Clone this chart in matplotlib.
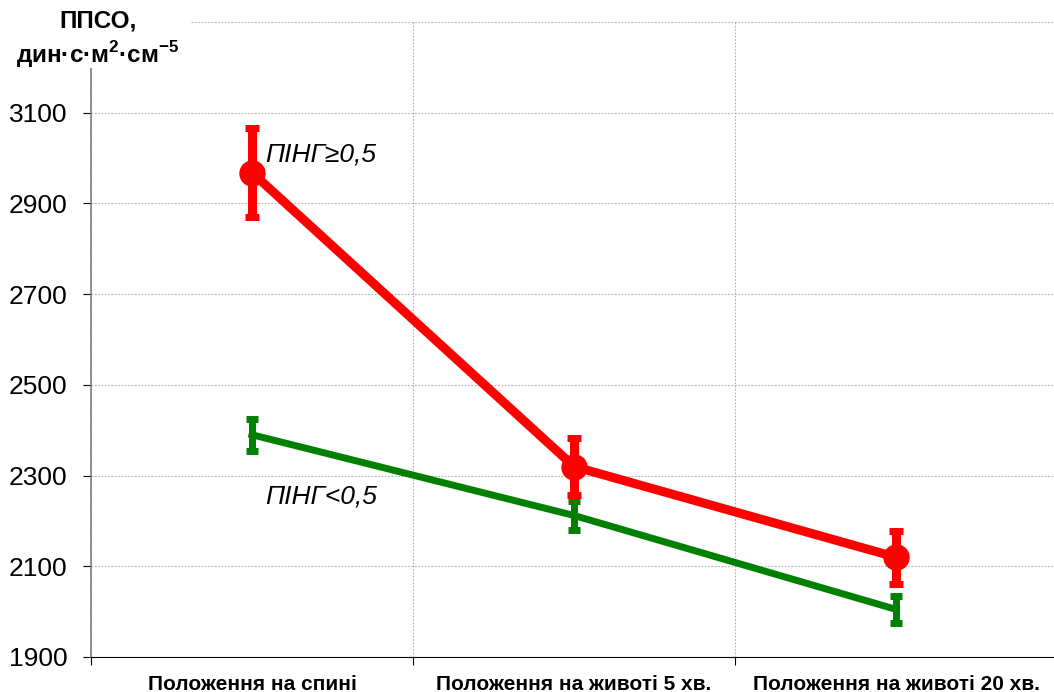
"""ППСО by body position for two ПІНГ groups."""
import matplotlib.pyplot as plt
import numpy as np
from matplotlib.patches import Rectangle

plt.rcParams["font.family"] = ["Liberation Sans", "DejaVu Sans"]
plt.rcParams["mathtext.fontset"] = "custom"
plt.rcParams["mathtext.rm"] = "Liberation Sans"
plt.rcParams["mathtext.bf"] = "Liberation Sans:bold"

positions = ["Положення на спині", "Положення на животі 5 хв.", "Положення на животі 20 хв."]
high_mean = [2968, 2320, 2120]
high_err = [98, 62, 58]
low_mean = [2390, 2212, 2005]
low_err = [35, 33, 30]

fig = plt.figure(figsize=(10.54, 6.92), dpi=100)
ax = fig.add_axes([91 / 1054, 35 / 692, 966 / 1054, 635 / 692])

x = np.arange(len(positions)) + 0.5

ax.errorbar(x, low_mean, yerr=low_err, color="#008000", lw=5, elinewidth=5,
            capsize=4.5, capthick=5, zorder=3)
ax.errorbar(x, high_mean, yerr=high_err, color="#ff0000", lw=6.5, elinewidth=6.5,
            capsize=4.8, capthick=5, marker="o", ms=18, zorder=4)

ax.set_xlim(0, 3)
ax.set_ylim(1900, 3300)
yt = np.arange(1900, 3301, 200)
ax.set_yticks(yt)
ax.set_yticklabels([str(v) if v < 3300 else "" for v in yt])
ax.set_xticks([0, 1, 2, 3])
ax.set_xticklabels([])
ax.set_xticks(x, minor=True)
ax.set_xticklabels(positions, minor=True, fontsize=15, fontweight="bold")
ax.tick_params(axis="x", which="minor", length=0, pad=13)
ax.tick_params(axis="x", which="major", direction="out", length=6, color="black")
ax.tick_params(axis="y", direction="out", length=6, labelsize=19, pad=11, color="black")

ax.grid(True, which="major", color="#b0b0b0", linestyle=(0, (1.5, 1.5)), linewidth=0.8)
for side in ["top", "right"]:
    ax.spines[side].set_visible(False)
ax.spines["left"].set_color("#808080")
ax.spines["left"].set_linewidth(1.2)
ax.spines["bottom"].set_color("black")

ax.text(0.54, 3007, "ПІНГ≥0,5", fontsize=19, style="italic", va="center")
ax.text(0.54, 2253, "ПІНГ<0,5", fontsize=19, style="italic", va="center")

# white block behind the axis title, as in the spreadsheet layout
fig.add_artist(Rectangle((0, 1 - 68 / 692), 190 / 1054, 68 / 692,
                         transform=fig.transFigure, facecolor="white",
                         edgecolor="none", zorder=9))
fig.text(98 / 1054, 1 - 40 / 692,
         "ППСО,\nдин·с·м$^{\\mathbf{2}}$·см$^{\\mathbf{-5}}$",
         fontsize=17.5, fontweight="bold", ha="center", va="center",
         linespacing=1.28, zorder=10)

fig.savefig("out.png", dpi=100)
